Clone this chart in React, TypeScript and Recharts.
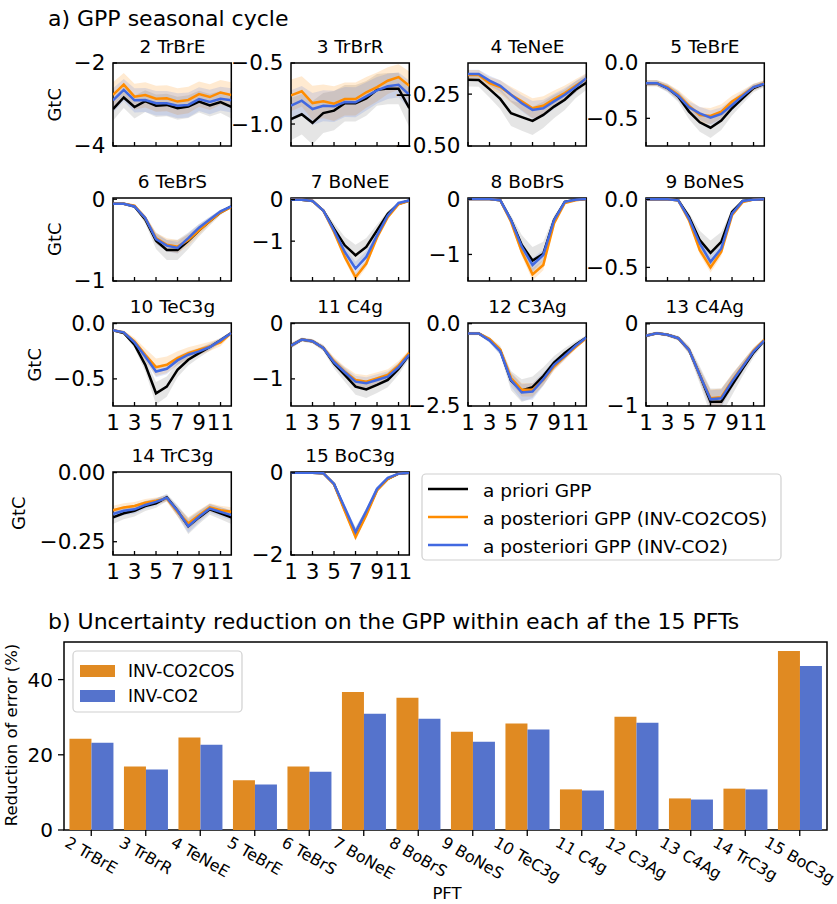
import React from 'react';
import { ComposedChart, Line, Area, XAxis, YAxis, ReferenceArea, BarChart, Bar } from 'recharts';

const FONT = '"DejaVu Sans", sans-serif';

// ---- panel a: monthly GPP per PFT (GtC) ----
const months = [1, 2, 3, 4, 5, 6, 7, 8, 9, 10, 11, 12];
const monthTicks = [1, 3, 5, 7, 9, 11];
const pftNames = ['2 TrBrE', '3 TrBrR', '4 TeNeE', '5 TeBrE', '6 TeBrS', '7 BoNeE', '8 BoBrS', '9 BoNeS', '10 TeC3g', '11 C4g', '12 C3Ag', '13 C4Ag', '14 TrC3g', '15 BoC3g'];

const gppPrior = [
  [-3.11, -2.83, -3.06, -2.92, -3.03, -3.01, -3.09, -3.05, -2.93, -3.02, -2.94, -3.06],
  [-0.96, -0.92, -0.99, -0.91, -0.89, -0.83, -0.83, -0.79, -0.72, -0.71, -0.71, -0.87],
  [-0.181, -0.182, -0.226, -0.273, -0.342, -0.361, -0.379, -0.35, -0.31, -0.277, -0.229, -0.195],
  [-0.182, -0.182, -0.227, -0.303, -0.439, -0.536, -0.585, -0.521, -0.409, -0.318, -0.227, -0.188],
  [-0.056, -0.056, -0.088, -0.248, -0.508, -0.62, -0.62, -0.508, -0.38, -0.268, -0.16, -0.088],
  [0, 0, -0.03, -0.26, -0.7, -1.1, -1.34, -1.14, -0.74, -0.34, -0.1, -0.02],
  [0, 0, 0, -0.02, -0.38, -0.83, -1.11, -0.99, -0.38, -0.05, -0.01, 0],
  [0, 0, 0, -0.007, -0.129, -0.3, -0.393, -0.312, -0.093, -0.012, -0.002, 0],
  [-0.061, -0.085, -0.191, -0.373, -0.63, -0.57, -0.418, -0.327, -0.267, -0.212, -0.152, -0.085],
  [-0.4, -0.29, -0.32, -0.44, -0.72, -0.93, -1.14, -1.19, -1.11, -1.02, -0.82, -0.56],
  [-0.3, -0.3, -0.49, -0.81, -1.73, -2.03, -1.93, -1.59, -1.18, -0.89, -0.64, -0.42],
  [-0.146, -0.114, -0.134, -0.175, -0.317, -0.622, -0.947, -0.947, -0.744, -0.541, -0.35, -0.203],
  [-0.162, -0.147, -0.138, -0.121, -0.111, -0.09, -0.138, -0.194, -0.162, -0.133, -0.147, -0.162],
  [0, 0, 0, -0.01, -0.27, -0.89, -1.49, -0.98, -0.41, -0.15, -0.02, 0],
];

const gppCo2Cos = [
  [-2.77, -2.52, -2.81, -2.77, -2.86, -2.85, -2.93, -2.89, -2.75, -2.82, -2.71, -2.77],
  [-0.765, -0.732, -0.828, -0.814, -0.833, -0.795, -0.795, -0.74, -0.697, -0.645, -0.615, -0.686],
  [-0.158, -0.158, -0.197, -0.216, -0.253, -0.285, -0.318, -0.306, -0.274, -0.245, -0.21, -0.176],
  [-0.182, -0.182, -0.218, -0.288, -0.388, -0.47, -0.479, -0.439, -0.348, -0.288, -0.218, -0.182],
  [-0.056, -0.056, -0.08, -0.228, -0.476, -0.556, -0.58, -0.5, -0.38, -0.268, -0.16, -0.096],
  [0, 0, -0.03, -0.26, -0.78, -1.38, -1.87, -1.54, -0.91, -0.42, -0.11, -0.03],
  [0, 0, 0, -0.02, -0.41, -0.95, -1.36, -1.19, -0.44, -0.07, -0.02, 0],
  [0, 0, 0, -0.007, -0.154, -0.373, -0.5, -0.385, -0.117, -0.02, -0.002, 0],
  [-0.061, -0.079, -0.161, -0.282, -0.394, -0.373, -0.312, -0.267, -0.236, -0.206, -0.17, -0.085],
  [-0.4, -0.29, -0.32, -0.44, -0.68, -0.87, -1.02, -1.05, -0.99, -0.93, -0.76, -0.53],
  [-0.3, -0.3, -0.47, -0.79, -1.65, -2.01, -2.01, -1.71, -1.3, -1.0, -0.71, -0.44],
  [-0.146, -0.114, -0.134, -0.175, -0.317, -0.622, -0.907, -0.894, -0.691, -0.512, -0.329, -0.195],
  [-0.136, -0.126, -0.121, -0.109, -0.102, -0.094, -0.142, -0.184, -0.154, -0.126, -0.136, -0.142],
  [0, 0, 0, -0.01, -0.28, -0.93, -1.56, -1.03, -0.43, -0.15, -0.02, 0],
];

const gppCo2 = [
  [-2.9, -2.65, -2.9, -2.89, -2.97, -2.97, -3.03, -3.01, -2.87, -2.94, -2.86, -2.9],
  [-0.85, -0.809, -0.877, -0.85, -0.855, -0.82, -0.822, -0.773, -0.724, -0.691, -0.678, -0.76],
  [-0.153, -0.153, -0.185, -0.21, -0.253, -0.294, -0.326, -0.318, -0.285, -0.253, -0.216, -0.173],
  [-0.182, -0.182, -0.227, -0.297, -0.4, -0.455, -0.494, -0.461, -0.379, -0.297, -0.218, -0.188],
  [-0.056, -0.056, -0.088, -0.228, -0.488, -0.568, -0.596, -0.476, -0.348, -0.248, -0.148, -0.088],
  [0, 0, -0.03, -0.26, -0.74, -1.26, -1.66, -1.38, -0.86, -0.38, -0.08, -0.02],
  [0, 0, 0, -0.02, -0.38, -0.86, -1.19, -1.01, -0.38, -0.05, -0.01, 0],
  [0, 0, 0, -0.007, -0.141, -0.324, -0.459, -0.361, -0.105, -0.012, -0.002, 0],
  [-0.061, -0.079, -0.17, -0.297, -0.433, -0.409, -0.333, -0.282, -0.252, -0.212, -0.152, -0.085],
  [-0.4, -0.29, -0.32, -0.44, -0.7, -0.88, -1.05, -1.08, -1.02, -0.96, -0.79, -0.56],
  [-0.3, -0.3, -0.51, -0.84, -1.71, -2.09, -2.06, -1.69, -1.25, -0.98, -0.67, -0.42],
  [-0.146, -0.114, -0.134, -0.175, -0.317, -0.622, -0.919, -0.907, -0.703, -0.52, -0.337, -0.203],
  [-0.15, -0.138, -0.133, -0.117, -0.106, -0.091, -0.138, -0.194, -0.16, -0.13, -0.142, -0.154],
  [0, 0, 0, -0.01, -0.27, -0.85, -1.44, -0.93, -0.39, -0.12, -0.02, 0],
];

// relative 1-sigma spread of each estimate, per PFT
const spreadPrior = [0.09, 0.18, 0.18, 0.16, 0.2, 0.19, 0.22, 0.23, 0.16, 0.13, 0.17, 0.17, 0.15, 0.1];
const spreadCo2Cos = [0.11, 0.17, 0.15, 0.15, 0.14, 0.06, 0.08, 0.08, 0.2, 0.11, 0.1, 0.12, 0.12, 0.06];
const spreadCo2 = [0.1, 0.15, 0.13, 0.13, 0.12, 0.1, 0.1, 0.1, 0.12, 0.1, 0.12, 0.12, 0.12, 0.08];

const yDomains = [
  [-4, -2], [-1.18, -0.5], [-0.5, -0.1], [-0.75, 0], [-1, 0.015], [-1.96, 0.04], [-1.48, 0.02],
  [-0.6, 0.01], [-0.745, 0.005], [-1.49, 0.01], [-2.5, 0.02], [-1, 0.01], [-0.298, 0.002], [-2, 0.02],
];
const yTicks = [
  [-4, -2], [-1, -0.5], [-0.5, -0.25], [-0.5, 0], [-1, 0], [-1, 0], [-1, 0],
  [-0.5, 0], [-0.5, 0], [-1, 0], [-2.5, 0], [-1, 0], [-0.25, 0], [-2, 0],
];
const yTickDecimals = [0, 1, 2, 1, 0, 0, 0, 1, 1, 0, 1, 0, 2, 0];

// ---- panel b: uncertainty reduction (%) ----
const reductionTicks = [0, 20, 40];
const reductionCo2Cos = [24.3, 16.9, 24.6, 13.2, 16.9, 36.7, 35.2, 26.1, 28.3, 10.8, 30.1, 8.4, 11.0, 47.6];
const reductionCo2 = [23.2, 16.1, 22.7, 12.1, 15.5, 30.9, 29.6, 23.5, 26.7, 10.5, 28.5, 8.1, 10.8, 43.6];

// layout of the small panels (plot-area boxes)
const COL_X = [113.3, 291, 468.3, 645.7];
const ROW_Y = [63.3, 197.7, 323.3, 471.7];
const PLOT_W = 118.3;
const PLOT_H = 83;
const PAD_L = 85;
const PAD_R = 6;
const PAD_T = 16;
const PAD_B = 36;
const GTC_X = [61.5, 61.5, 41.5, 25.5];

const C_PRIOR = '#000000';
const C_COS = '#ff8c00';
const C_CO2 = '#4169e1';
const BAR_COS = '#e08a22';
const BAR_CO2 = '#5573cc';

function fmtTick(v: number, dec: number) {
  return (v < 0 ? '\u2212' : '') + Math.abs(v).toFixed(dec);
}

let measureCtx: CanvasRenderingContext2D | null = null;
function textWidth(s: string, size: number) {
  if (!measureCtx) measureCtx = document.createElement('canvas').getContext('2d');
  if (!measureCtx) return s.length * size * 0.6;
  measureCtx.font = `${size}px "DejaVu Sans"`;
  return measureCtx.measureText(s).width;
}

const band = (v: number, s: number) => [v * (1 + s), v * (1 - s)];

function GppPanel({ idx }: { idx: number }) {
  const row = Math.floor(idx / 4);
  const col = idx % 4;
  const showX = row >= 2;
  const data = months.map((m, k) => ({
    month: m,
    prior: gppPrior[idx][k],
    cos: gppCo2Cos[idx][k],
    co2: gppCo2[idx][k],
    priorBand: band(gppPrior[idx][k], spreadPrior[idx]),
    cosBand: band(gppCo2Cos[idx][k], spreadCo2Cos[idx]),
    co2Band: band(gppCo2[idx][k], spreadCo2[idx]),
  }));
  const dom = yDomains[idx];

  const xTick = (p: any) => (
    <g>
      <line x1={p.x} x2={p.x} y1={p.y} y2={p.y - 4} stroke="#000" strokeWidth={1.3} />
      {showX && (
        <text x={p.x} y={p.y + 24} textAnchor="middle" fontSize={21.5} fontFamily={FONT} fill="#000">
          {p.payload.value}
        </text>
      )}
    </g>
  );
  const yTick = (p: any) => (
    <g>
      <line x1={p.x} x2={p.x + 4} y1={p.y} y2={p.y} stroke="#000" strokeWidth={1.3} />
      <text x={p.x - 7.5} y={p.y} textAnchor="end" dominantBaseline="central" fontSize={21.5} fontFamily={FONT} fill="#000">
        {fmtTick(p.payload.value, yTickDecimals[idx])}
      </text>
    </g>
  );

  return (
    <div style={{ position: 'absolute', left: COL_X[col] - PAD_L, top: ROW_Y[row] - PAD_T }}>
      <ComposedChart
        width={PLOT_W + PAD_L + PAD_R}
        height={PLOT_H + PAD_T + PAD_B}
        data={data}
        margin={{ top: PAD_T, right: PAD_R, left: 0, bottom: 0 }}
      >
        <XAxis dataKey="month" type="number" domain={[1, 12]} ticks={monthTicks} interval={0} allowDataOverflow
          height={PAD_B} axisLine={false} tickLine={false} tickSize={0} tickMargin={0} tick={xTick} />
        <YAxis type="number" domain={dom} ticks={yTicks[idx]} interval={0} allowDataOverflow
          width={PAD_L} axisLine={false} tickLine={false} tickSize={0} tickMargin={0} tick={yTick} />
        <Area type="linear" dataKey="priorBand" stroke="none" fill={C_PRIOR} fillOpacity={0.1} isAnimationActive={false} />
        <Area type="linear" dataKey="cosBand" stroke="none" fill={C_COS} fillOpacity={0.18} isAnimationActive={false} />
        <Area type="linear" dataKey="co2Band" stroke="none" fill={C_CO2} fillOpacity={0.16} isAnimationActive={false} />
        <Line type="linear" dataKey="prior" stroke={C_PRIOR} strokeWidth={2.5} dot={false} isAnimationActive={false} />
        <Line type="linear" dataKey="cos" stroke={C_COS} strokeWidth={2.5} dot={false} isAnimationActive={false} />
        <Line type="linear" dataKey="co2" stroke={C_CO2} strokeWidth={2.5} dot={false} isAnimationActive={false} />
        <ReferenceArea y1={dom[0]} y2={dom[1]} fill="none" stroke="#000" strokeWidth={1.5} ifOverflow="visible" />
      </ComposedChart>
    </div>
  );
}

function ReductionChart() {
  const data = pftNames.map((name, i) => ({ name, cos: reductionCo2Cos[i], co2: reductionCo2[i] }));
  const xTick = (p: any) => {
    const w = textWidth(String(p.payload.value), 16);
    const cy = p.y - 1 + (w / 2 + 12) / 2;
    return (
      <text x={p.x} y={cy} transform={`rotate(30 ${p.x} ${cy})`} textAnchor="middle" dominantBaseline="central"
        fontSize={16} fontFamily={FONT} fill="#000">
        {p.payload.value}
      </text>
    );
  };
  const yTick = (p: any) => (
    <text x={p.x} y={p.y} textAnchor="end" dominantBaseline="central" fontSize={20} fontFamily={FONT} fill="#000">
      {p.payload.value}
    </text>
  );
  return (
    <div style={{ position: 'absolute', left: 0, top: 621 }}>
      <BarChart width={837} height={283} data={data} margin={{ top: 21, right: 10, left: 0, bottom: 0 }}
        barCategoryGap="10%" barGap={0}>
        <XAxis dataKey="name" interval={0} height={74} axisLine={false} stroke="#000"
          tickLine={{ stroke: '#000', strokeWidth: 1.3 }} tickSize={6} tickMargin={0} tick={xTick} />
        <YAxis type="number" domain={[0, 50]} ticks={reductionTicks} interval={0} width={64} axisLine={false} stroke="#000"
          tickLine={{ stroke: '#000', strokeWidth: 1.3 }} tickSize={6} tickMargin={5} tick={yTick} />
        <Bar dataKey="cos" fill={BAR_COS} isAnimationActive={false} />
        <Bar dataKey="co2" fill={BAR_CO2} isAnimationActive={false} />
        <ReferenceArea y1={0} y2={50} fill="none" stroke="#000" strokeWidth={1.5} ifOverflow="visible" />
      </BarChart>
    </div>
  );
}

function Annotations() {
  const legendA = [
    { label: 'a priori GPP', color: C_PRIOR },
    { label: 'a posteriori GPP (INV-CO2COS)', color: C_COS },
    { label: 'a posteriori GPP (INV-CO2)', color: C_CO2 },
  ];
  const legendB = [
    { label: 'INV-CO2COS', color: BAR_COS },
    { label: 'INV-CO2', color: BAR_CO2 },
  ];
  return (
    <svg width={837} height={904} style={{ position: 'absolute', left: 0, top: 0, pointerEvents: 'none' }}
      fontFamily={FONT} fill="#000">
      <text x={48} y={26} fontSize={22}>a) GPP seasonal cycle</text>
      <text x={48} y={629} fontSize={22}>b) Uncertainty reduction on the GPP within each af the 15 PFTs</text>

      {pftNames.map((name, i) => {
        const row = Math.floor(i / 4);
        const col = i % 4;
        return (
          <text key={name} x={COL_X[col] + PLOT_W / 2} y={ROW_Y[row] - 10} textAnchor="middle" fontSize={18.5}>
            {name}
          </text>
        );
      })}

      {ROW_Y.map((y, r) => {
        const cy = y + PLOT_H / 2;
        return (
          <text key={r} x={GTC_X[r]} y={cy} textAnchor="middle" fontSize={18} transform={`rotate(-90 ${GTC_X[r]} ${cy})`}>
            GtC
          </text>
        );
      })}

      <rect x={422} y={474} width={359} height={86} rx={4} fill="#fff" fillOpacity={0.8} stroke="#d0d0d0" strokeWidth={1.2} />
      {legendA.map((e, i) => (
        <g key={e.label}>
          <line x1={428} x2={468} y1={489 + i * 28} y2={489 + i * 28} stroke={e.color} strokeWidth={2.5} />
          <text x={483} y={497 + i * 28} fontSize={18.5}>{e.label}</text>
        </g>
      ))}

      <text x={17} y={735} textAnchor="middle" fontSize={16.5} transform="rotate(-90 17 735)">Reduction of error (%)</text>
      <text x={447} y={899} textAnchor="middle" fontSize={16.5}>PFT</text>

      <rect x={73} y={651} width={169} height={61} rx={4} fill="#fff" fillOpacity={0.8} stroke="#d0d0d0" strokeWidth={1.2} />
      {legendB.map((e, i) => (
        <g key={e.label}>
          <rect x={80} y={665 + i * 25} width={35} height={12} fill={e.color} />
          <text x={128} y={677 + i * 25} fontSize={17}>{e.label}</text>
        </g>
      ))}
    </svg>
  );
}

export default function App() {
  return (
    <div style={{ position: 'absolute', left: 0, top: 0, width: 837, height: 904, background: '#fff' }}>
      {pftNames.map((_, i) => (
        <GppPanel key={i} idx={i} />
      ))}
      <ReductionChart />
      <Annotations />
    </div>
  );
}
